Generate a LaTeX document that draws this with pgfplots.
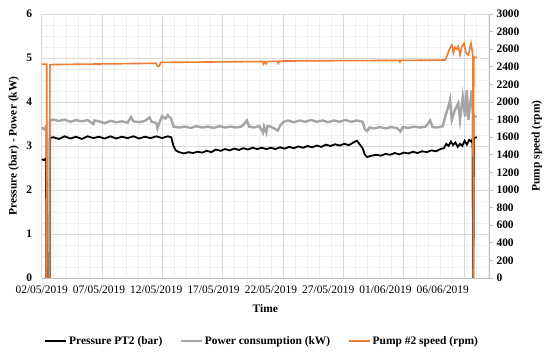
\documentclass[border=0pt]{standalone}
\usepackage{fontspec}
\setmainfont{Liberation Serif}
\usepackage{pgfplots}
\pgfplotsset{compat=1.18}
\definecolor{cOrange}{HTML}{ED7D31}
\definecolor{cGray}{HTML}{A5A5A5}
\definecolor{cGrid}{HTML}{D9D9D9}
\definecolor{cMinor}{HTML}{EFEFEF}
\definecolor{cAxis}{HTML}{BFBFBF}
\begin{document}
\begin{tikzpicture}
\pgfplotsset{
  common/.style={
    scale only axis, width=447.3bp, height=264bp,
    xmin=0, xmax=39.03,
    font=\fontsize{11.5}{13}\selectfont,
    /pgf/number format/assume math mode=true,
    /pgf/number format/1000 sep={},
  }
}
\begin{axis}[common,
  ymin=0, ymax=6, ytick={0,1,...,6},
  minor y tick num=3,
  axis x line*=bottom, axis y line*=left,
  axis line style={cAxis, line width=0.8bp},
  xtick={0,5,...,35},
  xticklabels={02/05/2019,07/05/2019,12/05/2019,17/05/2019,22/05/2019,27/05/2019,01/06/2019,06/06/2019},
  major tick length=0, minor tick length=0,
  extra x ticks={0,5.265,10.53,15.795,21.06,26.325,31.59,36.855},
  extra x tick labels={},
  extra x tick style={grid=major},
  minor xtick={0,1.053,...,39},
  xminorgrids=true, ymajorgrids=true, yminorgrids=true,
  major grid style={cGrid, line width=0.6bp},
  minor grid style={cMinor, line width=0.6bp},
  yticklabel style={font=\fontsize{11.5}{13}\selectfont\bfseries, xshift=-6bp},
  xticklabel style={yshift=-4bp},
  xlabel={\bfseries Time},
  xlabel style={at={(axis description cs:0.5,-0.1174)}, anchor=center},
  ylabel={\bfseries Pressure (bar) - Power (kW)},
  ylabel style={at={(axis description cs:-0.062,0.5)}, anchor=center},
]
\coordinate (sw) at (rel axis cs:0,0);
\coordinate (ne) at (rel axis cs:1,1);
% Power consumption (kW)
\addplot[cGray, line width=2.4bp] coordinates {
(0,3.42) (0.2,3.38) (0.4,3.45) (0.43,0) (0.69,0) (0.71,3.58)
(1.0,3.60) (1.5,3.57) (2.0,3.60) (2.5,3.55) (3.0,3.59) (3.5,3.56) (4.0,3.59) (4.5,3.50) (4.6,3.58)
(5.0,3.56) (5.5,3.52) (6.0,3.57) (6.5,3.54) (7.0,3.56) (7.5,3.53) (7.8,3.66) (8.0,3.56) (8.5,3.54)
(9.0,3.57) (9.4,3.65) (9.6,3.55) (10.0,3.52) (10.1,3.40) (10.3,3.55) (10.5,3.68) (10.8,3.62) (11.0,3.70)
(11.3,3.62) (11.5,3.44) (12.0,3.42) (12.5,3.44) (13.0,3.41) (13.5,3.45) (14.0,3.42) (14.5,3.44) (15.0,3.41)
(15.5,3.45) (16.0,3.42) (16.5,3.44) (17.0,3.42) (17.5,3.45) (17.9,3.58) (18.1,3.44) (18.5,3.42) (19.0,3.45)
(19.3,3.30) (19.4,3.44) (19.6,3.30) (19.7,3.45) (20.0,3.44) (20.6,3.35) (20.8,3.46) (21.1,3.55) (21.5,3.58)
(22.0,3.54) (22.5,3.58) (23.0,3.55) (23.5,3.59) (24.0,3.55) (24.5,3.58) (25.0,3.54) (25.5,3.58) (26.0,3.55)
(26.5,3.59) (27.0,3.55) (27.5,3.58) (28.0,3.55) (28.2,3.38) (28.4,3.34) (28.6,3.42) (29.0,3.40) (29.5,3.43)
(30.0,3.40) (30.5,3.43) (31.0,3.41) (31.3,3.33) (31.5,3.43) (32.0,3.41) (32.5,3.44) (33.0,3.42) (33.5,3.44)
(33.9,3.58) (34.1,3.43) (34.5,3.42) (35.0,3.45) (35.2,3.67) (35.48,3.89) (35.63,4.05) (35.78,3.59)
(36.06,3.82) (36.35,3.97) (36.5,3.59) (36.74,4.12) (36.94,3.67) (37.09,4.27) (37.23,3.59) (37.52,4.27)
(37.61,3.74) (37.65,0) (37.7,3.70) (37.81,3.67) (37.96,3.67)
};
% Pressure PT2 (bar)
\addplot[black, line width=1.8bp] coordinates {
(0,2.70) (0.2,2.68) (0.4,2.72) (0.43,0) (0.69,0) (0.71,3.18)
(1.0,3.20) (1.5,3.16) (2.0,3.22) (2.5,3.17) (3.0,3.21) (3.5,3.16) (4.0,3.22) (4.5,3.18) (5.0,3.21)
(5.5,3.17) (6.0,3.22) (6.5,3.17) (7.0,3.21) (7.5,3.18) (8.0,3.22) (8.5,3.17) (9.0,3.21) (9.5,3.18)
(10.0,3.22) (10.5,3.18) (11.0,3.22) (11.3,3.20) (11.5,3.00) (11.7,2.90) (12.0,2.86) (12.4,2.83) (12.8,2.86)
(13.2,2.84) (13.6,2.87) (14.0,2.85) (14.4,2.89) (14.8,2.86) (15.2,2.92) (15.6,2.89) (16.0,2.93) (16.4,2.90)
(16.8,2.94) (17.2,2.91) (17.6,2.95) (18.0,2.92) (18.4,2.96) (18.8,2.93) (19.2,2.96) (19.6,2.93) (20.0,2.96)
(20.4,2.93) (20.8,2.97) (21.2,2.94) (21.6,2.98) (22.0,2.95) (22.4,2.99) (22.8,2.96) (23.2,3.00) (23.6,2.97)
(24.0,3.01) (24.4,2.98) (24.8,3.03) (25.2,3.00) (25.6,3.04) (26.0,3.01) (26.4,3.05) (26.8,3.02) (27.2,3.08)
(27.5,3.12) (27.8,3.02) (28.0,2.95) (28.2,2.80) (28.4,2.75) (28.8,2.78) (29.2,2.80) (29.6,2.78) (30.0,2.82)
(30.4,2.80) (30.8,2.84) (31.2,2.81) (31.6,2.85) (32.0,2.83) (32.4,2.87) (32.8,2.84) (33.2,2.88) (33.6,2.86)
(34.0,2.90) (34.4,2.88) (34.8,2.93) (35.1,2.95) (35.3,3.05) (35.5,3.00) (35.7,3.10) (35.9,3.02) (36.1,3.08)
(36.3,2.98) (36.5,3.05) (36.7,3.00) (36.9,3.12) (37.1,3.03) (37.3,3.14) (37.5,3.10) (37.6,3.16) (37.65,0)
(37.7,3.18) (37.96,3.20)
};
\end{axis}
\begin{axis}[common,
  ymin=0, ymax=3000, ytick={0,200,...,3000},
  axis x line=none, axis y line*=right,
  axis line style={cAxis, line width=0.8bp},
  tick style={cAxis, line width=0.8bp},
  tick align=outside, major tick length=4bp,
  yticklabel style={font=\fontsize{11.5}{13}\selectfont\bfseries},
  ylabel={\bfseries Pump speed (rpm)},
  ylabel style={at={(axis description cs:1.107,0.5)}, anchor=center},
  legend columns=3,
  legend style={at={(axis description cs:0.4934,-0.2386)}, anchor=center, draw=none,
    font=\fontsize{11.5}{13}\selectfont\bfseries,
    /tikz/every even column/.append style={column sep=16bp}},
  legend image code/.code={\draw[#1, line width=1.5bp] (0bp,0bp) -- (21bp,0bp);},
]
\addlegendimage{black}
\addlegendentry{Pressure PT2 (bar)}
\addlegendimage{cGray}
\addlegendentry{Power consumption (kW)}
\addplot[cOrange, line width=1.6bp] coordinates {
(0,2430) (0.44,2430) (0.45,0) (0.71,0) (0.72,2425) (5,2432) (10.0,2440) (10.1,2405) (10.25,2410) (10.4,2450)
(15,2455) (19.3,2460) (19.35,2430) (19.5,2460) (19.6,2435) (19.7,2462) (20.6,2462) (20.65,2440) (20.75,2465)
(25,2469) (31.2,2472) (31.26,2455) (31.35,2472) (35.19,2477) (35.34,2515) (35.54,2591) (35.78,2648)
(35.92,2557) (36.06,2620) (36.21,2600) (36.35,2630) (36.5,2534) (36.65,2628) (36.85,2667) (37.02,2557)
(37.23,2534) (37.46,2667) (37.57,2572) (37.62,2520) (37.66,0) (37.7,2508) (37.96,2508)
};
\addlegendentry{Pump \#2 speed (rpm)}
\end{axis}
\pgfresetboundingbox
\path[use as bounding box] ([xshift=-41.7bp,yshift=-80bp]sw) rectangle ([xshift=61bp,yshift=14bp]ne);
\end{tikzpicture}
\end{document}
